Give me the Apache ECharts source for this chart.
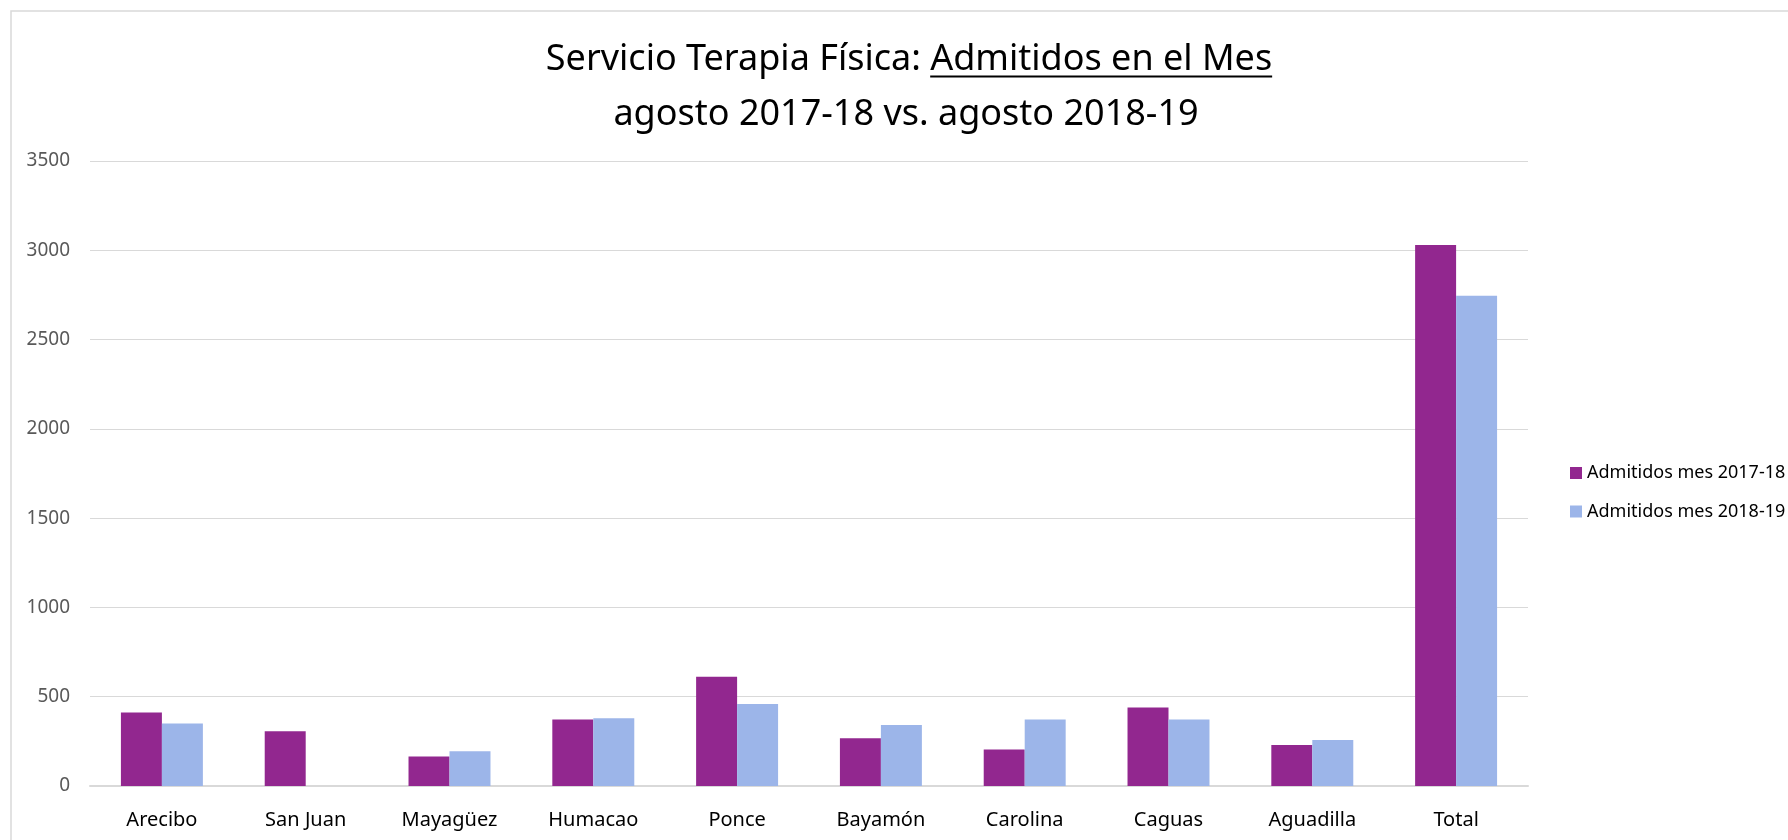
<!DOCTYPE html>
<html><head><meta charset="utf-8">
<script src="https://cdn.jsdelivr.net/npm/echarts@6/dist/echarts.min.js"></script>
<style>html,body{margin:0;padding:0;background:#fff;}#c{width:1788px;height:840px;}</style>
</head><body><div id="c"></div>
<script>
const categories = ['Arecibo','San Juan','Mayagüez','Humacao','Ponce','Bayamón','Carolina','Caguas','Aguadilla','Total'];
const seriesNames = ['Admitidos mes 2017-18','Admitidos mes 2018-19'];
const admitidos1718 = [412, 306, 165, 373, 612, 268, 204, 440, 229, 3030];
const admitidos1819 = [350, 0, 195, 380, 459, 341, 373, 373, 257, 2745];
const titleA = 'Servicio Terapia Física: ';
const titleB = 'Admitidos en el Mes';
const titleLine2 = 'agosto 2017-18 vs. agosto 2018-19';

const FONT = '"Noto Sans", sans-serif';
const TS = 36;
const ctx = document.createElement('canvas').getContext('2d');
ctx.font = TS + 'px ' + FONT;
const wA = ctx.measureText(titleA).width;
const wAll = ctx.measureText(titleA + titleB).width;
const cx1 = 909, cx2 = 906;
const x0 = cx1 - wAll / 2;
const y1 = 60, y2 = 114.5;

const chart = echarts.init(document.getElementById('c'));
chart.setOption({
  backgroundColor: '#fff',
  animation: false,
  textStyle: { fontFamily: FONT },
  grid: { left: 90, right: 260, top: 161, bottom: 54, containLabel: false },
  legend: {
    orient: 'vertical', left: 1565, top: 459,
    itemWidth: 12, itemHeight: 12, itemGap: 20.5, icon: 'rect',
    textStyle: { fontSize: 18, color: '#000', fontFamily: FONT },
    data: seriesNames
  },
  xAxis: {
    type: 'category', data: categories,
    axisLine: { show: true, lineStyle: { color: '#d9d9d9', width: 2 } },
    axisTick: { show: false },
    axisLabel: { fontSize: 20, color: '#000', margin: 24, interval: 0 }
  },
  yAxis: {
    type: 'value', min: 0, max: 3500, interval: 500,
    axisLine: { show: false }, axisTick: { show: false },
    axisLabel: { fontSize: 19, color: '#595959', margin: 20, formatter: function (v) { return String(v); } },
    splitLine: { lineStyle: { color: '#d9d9d9', width: 1.2 } }
  },
  series: [
    { name: seriesNames[0], type: 'bar', data: admitidos1718, barGap: '0%', barCategoryGap: '43%', itemStyle: { color: '#92278F' } },
    { name: seriesNames[1], type: 'bar', data: admitidos1819, barGap: '0%', barCategoryGap: '43%', itemStyle: { color: '#9CB5E9' } }
  ],
  graphic: [
    { type: 'rect', silent: true, shape: { x: 11, y: 11, width: 1800, height: 900 }, style: { fill: 'none', stroke: '#d9d9d9', lineWidth: 1.5 } },
    { type: 'text', x: x0, y: y1, style: { text: titleA, font: TS + 'px ' + FONT, fill: '#000', textAlign: 'left', textVerticalAlign: 'middle' } },
    { type: 'text', x: x0 + wA, y: y1, style: { text: titleB, font: TS + 'px ' + FONT, fill: '#000', textAlign: 'left', textVerticalAlign: 'middle' } },
    { type: 'line', shape: { x1: x0 + wA, y1: 76.5, x2: x0 + wAll, y2: 76.5 }, style: { stroke: '#000', lineWidth: 2 } },
    { type: 'text', x: cx2, y: y2, style: { text: titleLine2, font: TS + 'px ' + FONT, fill: '#000', textAlign: 'center', textVerticalAlign: 'middle' } }
  ]
});
</script></body></html>
